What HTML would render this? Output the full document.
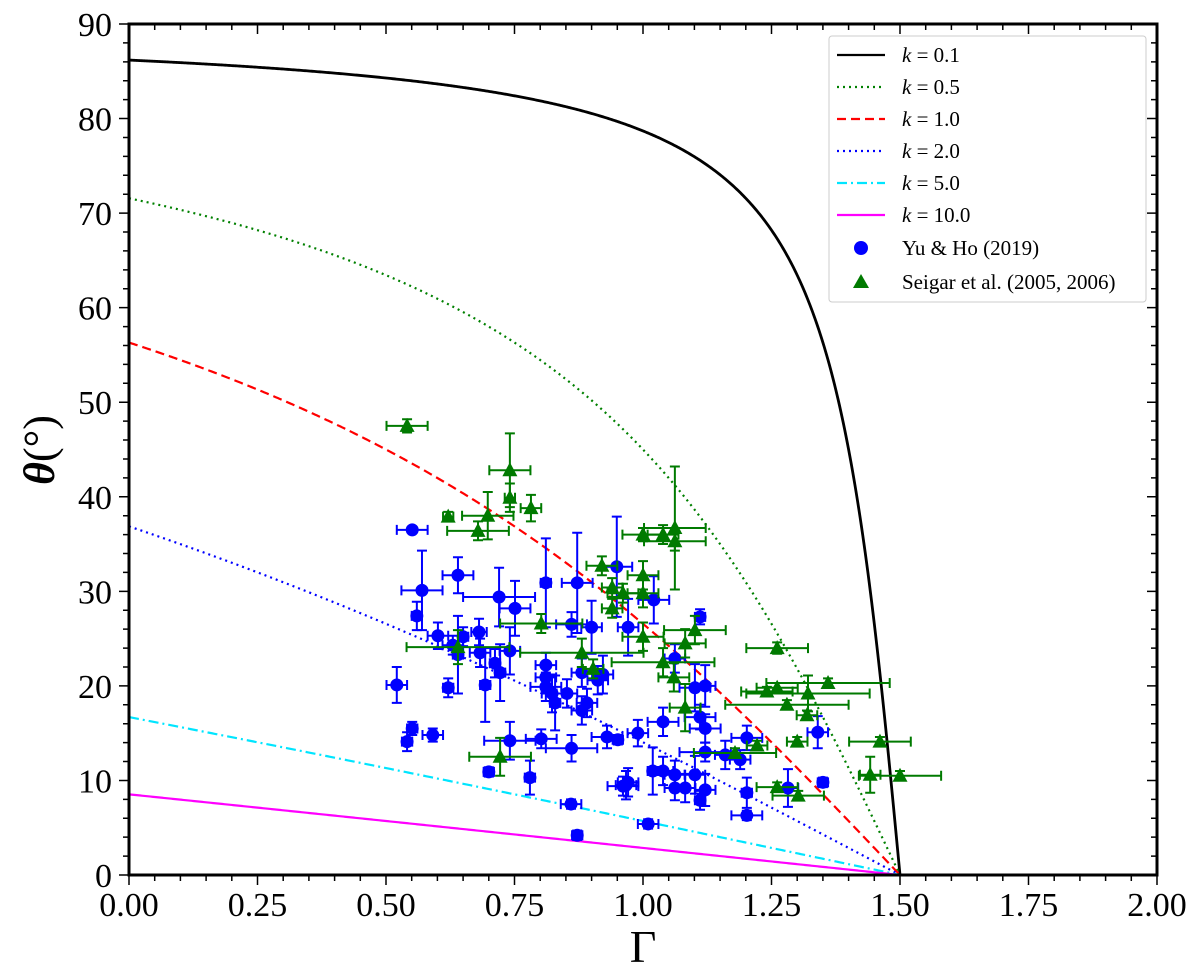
<!DOCTYPE html>
<html><head><meta charset="utf-8"><style>
body{margin:0;background:#fff;}
svg{display:block;font-family:"Liberation Serif",serif;}
</style></head><body>
<svg id="chart" width="1200" height="975" viewBox="0 0 1200 975" xmlns="http://www.w3.org/2000/svg">
<rect width="1200" height="975" fill="#fff"/>
<g id="curves"></g>
<g id="blue"></g>
<g id="green"></g>
<g id="axes"></g>
<text x="643" y="962" font-size="46" text-anchor="middle">Γ</text>
<text transform="translate(54,450) rotate(-90)" font-size="44" text-anchor="middle"><tspan font-style="italic" font-weight="bold">θ</tspan>(°)</text>
<g id="legend"></g>
</svg>
<script>
const kValues=[0.1,0.5,1.0,2.0,5.0,10.0];
const kColors=['#000','#008000','#ff0000','#0000ff','#00e5ff','#ff00ff'];
const kDash=['', '2,4', '9,5', '2,4', '10,4,2,4', ''];
const xTicks=[0,0.25,0.5,0.75,1.0,1.25,1.5,1.75,2.0];
const xTickLabels=['0.00','0.25','0.50','0.75','1.00','1.25','1.50','1.75','2.00'];
const yTicks=[0,10,20,30,40,50,60,70,80,90];
const yTickLabels=['0','10','20','30','40','50','60','70','80','90'];
const blueG=[.551,.570,.640,.560,.720,.751,.811,.872,.601,.630,.650,.681,.640,.683,.741,.712,.722,.693,.521,.621,.811,.811,.811,.823,.852,.829,.861,.900,.881,.891,.881,.912,.922,.971,1.021,.551,.541,.591,.741,.802,.861,.700,.780,.930,.951,.990,1.039,1.019,1.039,.971,.961,.860,1.010,.872,.949,1.111,1.062,1.101,1.121,1.111,1.121,1.202,1.121,1.160,1.189,1.062,1.101,1.062,1.082,1.121,1.111,1.202,1.202,1.282,1.340,1.350,.967];
const blueT=[36.5,30.1,31.7,27.4,29.4,28.2,30.9,30.9,25.3,24.3,25.2,25.7,23.3,23.5,23.7,22.4,21.4,20.1,20.1,19.8,22.2,20.9,19.9,19.2,19.2,18.2,26.5,26.2,21.4,18.2,17.4,20.6,21.2,26.2,29.1,15.5,14.1,14.8,14.2,14.4,13.4,10.9,10.3,14.6,14.3,15.0,16.2,11.0,11.0,9.8,9.4,7.5,5.4,4.2,32.6,27.3,22.9,19.8,20.0,16.7,15.5,14.5,13.0,12.7,12.2,10.6,10.6,9.2,9.2,9.0,7.9,8.7,6.3,9.2,15.1,9.8,9.5];
const blueGerr=[.03,.04,.03,.01,.07,.03,.01,.03,.02,.02,.01,.015,.01,.02,.02,.01,.01,.01,.02,.01,.02,.02,.03,.02,.02,.01,.03,.02,.02,.02,.02,.02,.02,.02,.03,.01,.01,.02,.05,.03,.05,.01,.01,.03,.01,.02,.03,.01,.02,.02,.03,.02,.02,.01,.03,.01,.02,.03,.02,.03,.03,.03,.05,.02,.02,.02,.02,.02,.02,.02,.01,.01,.03,.02,.02,.01,.02];
const blueTerr=[.3,4.2,1.9,1.5,3.1,2.9,4.7,5.3,1.4,1,1,1.4,4.1,1.5,2.5,1.5,3,3.9,1.9,1,1.3,1.5,1.5,2,1.5,2.9,1.3,2.8,1.5,1.5,1.5,1.5,2,3,2.5,.7,1,.7,2,1,1.4,.5,1.8,1.2,.5,1.4,1.5,2.5,1.5,1.5,1,.5,.5,.5,5.3,.8,1.5,2.5,2.2,1.3,1.5,1.3,1,1.5,1,1.5,2,1.3,1.5,1.7,1,1.6,.5,2,1.7,.5,1.5];
const greenG=[.541,.741,.741,.782,.621,.698,.679,.640,.802,.722,.920,.881,.903,1.000,1.039,1.062,1.062,1.000,.940,.961,1.000,.940,1.000,1.101,1.082,1.039,1.060,1.082,1.261,1.360,1.321,1.241,1.261,1.280,1.319,1.300,1.222,1.179,1.461,1.442,1.500,1.261,1.302];
const greenT=[47.5,42.8,39.9,38.8,37.9,38.0,36.4,24.1,26.6,12.5,32.7,23.5,21.8,36.0,36.0,36.7,35.3,31.7,30.4,29.8,29.8,28.2,25.2,25.9,24.5,22.5,20.9,17.7,24.0,20.3,19.2,19.4,19.8,18.0,16.9,14.1,13.7,12.9,14.1,10.6,10.5,9.3,8.4];
const greenGerr=[.04,.04,.01,.02,.01,.05,.06,.1,.08,.06,.03,.12,.02,.04,.03,.06,.06,.03,.02,.03,.03,.02,.04,.06,.04,.1,.03,.03,.06,.12,.12,.05,.04,.12,.02,.02,.02,.08,.06,.02,.08,.04,.05];
const greenTerr=[.7,3.9,1.5,1.4,.5,2.5,1,1.8,1,2,1,1.5,1,.7,1,6.5,1,1.5,1,1,1.5,1,1.5,1.5,1.5,1.5,1.5,2.5,.6,.5,1.9,.5,.5,.5,.5,.5,.5,.5,.5,1.9,.5,.5,.5];

const X0=129,X1=1157,Y0=875,Y1=24;
const sx=g=>X0+(g/2)*(X1-X0);
const sy=t=>Y0-(t/90)*(Y0-Y1);
const NS='http://www.w3.org/2000/svg';
function mk(tag,attrs,parent){const e=document.createElementNS(NS,tag);for(const k in attrs)e.setAttribute(k,attrs[k]);parent.appendChild(e);return e;}

const cg=document.getElementById('curves');
kValues.forEach((k,i)=>{
  let d='';
  for(let j=0;j<=600;j++){const g=1.5*j/600;const t=Math.atan((1.5-g)/k)*180/Math.PI;d+=(j?'L':'M')+sx(g).toFixed(2)+','+sy(t).toFixed(2);}
  const p=mk('path',{d:d,fill:'none',stroke:kColors[i],'stroke-width':(i==0?2.8:2.2),'stroke-dasharray':kDash[i]},cg);
  
  
});

function errbar(g,gx,t,ex,et,col,parent){
  const x=sx(gx),y=sy(t),x1=sx(gx-ex),x2=sx(gx+ex),ya=sy(t+et),yb=sy(t-et);
  mk('path',{d:`M${x1},${y}H${x2}M${x},${ya}V${yb}M${x1},${y-5}V${y+5}M${x2},${y-5}V${y+5}M${x-5},${ya}H${x+5}M${x-5},${yb}H${x+5}`,stroke:col,'stroke-width':2,fill:'none'},parent);
}
const bg=document.getElementById('blue');
blueG.forEach((g,i)=>{
  const gr=mk('g',{},bg);
  
  
  errbar(gr,g,blueT[i],blueGerr[i],blueTerr[i],'#0000ff',gr);
  mk('circle',{cx:sx(g),cy:sy(blueT[i]),r:6.5,fill:'#0000ff'},gr);
});
const gg=document.getElementById('green');
greenG.forEach((g,i)=>{
  const gr=mk('g',{},gg);
  
  
  errbar(gr,g,greenT[i],greenGerr[i],greenTerr[i],'#007a00',gr);
  const x=sx(g),y=sy(greenT[i]);
  mk('path',{d:`M${x},${y-8}L${x+7.5},${y+6}L${x-7.5},${y+6}Z`,fill:'#007a00'},gr);
});

const ax=document.getElementById('axes');
mk('rect',{x:X0,y:Y1,width:X1-X0,height:Y0-Y1,fill:'none',stroke:'#000','stroke-width':3},ax);
let td='';
for(let i=0;i<=40;i++){const g=i*0.05,x=sx(g),maj=i%5==0,L=maj?10:6;td+=`M${x},${Y0}v${L}M${x},${Y1}v${L}`;}
for(let i=0;i<=45;i++){const t=i*2,y=sy(t),maj=i%5==0,L=maj?10:6;td+=`M${X0},${y}h${-L}M${X1},${y}h${-L}`;}
mk('path',{d:td,stroke:'#000','stroke-width':1.5,fill:'none'},ax);
xTicks.forEach((v,i)=>{const t=mk('text',{x:sx(v),y:916,'font-size':34,'text-anchor':'middle'},ax);t.textContent=xTickLabels[i];
  
  });
yTicks.forEach((v,i)=>{const t=mk('text',{x:112,y:sy(v)+12,'font-size':34,'text-anchor':'end'},ax);t.textContent=yTickLabels[i];
  
  });

const lg=document.getElementById('legend');
mk('rect',{x:829,y:36,width:317,height:266,rx:3,fill:'#fff',stroke:'#ccc','stroke-width':1},lg);
kValues.forEach((k,i)=>{
  const y=55+i*32;
  const e=mk('g',{},lg);
  
  
  mk('line',{x1:837,x2:885,y1:y,y2:y,stroke:kColors[i],'stroke-width':2.2,'stroke-dasharray':kDash[i]},e);
  const t=mk('text',{x:902,y:y+7,'font-size':21},e);
  t.innerHTML='<tspan font-style="italic">k</tspan> = '+k.toFixed(1);
});
const e1=mk('g',{},lg);


mk('circle',{cx:861,cy:248,r:7,fill:'#0000ff'},e1);
mk('text',{x:902,y:255,'font-size':21},e1).textContent='Yu & Ho (2019)';
const e2=mk('g',{},lg);


mk('path',{d:'M861,274L869,288L853,288Z',fill:'#007a00'},e2);
mk('text',{x:902,y:289,'font-size':21},e2).textContent='Seigar et al. (2005, 2006)';
</script>
</body></html>
